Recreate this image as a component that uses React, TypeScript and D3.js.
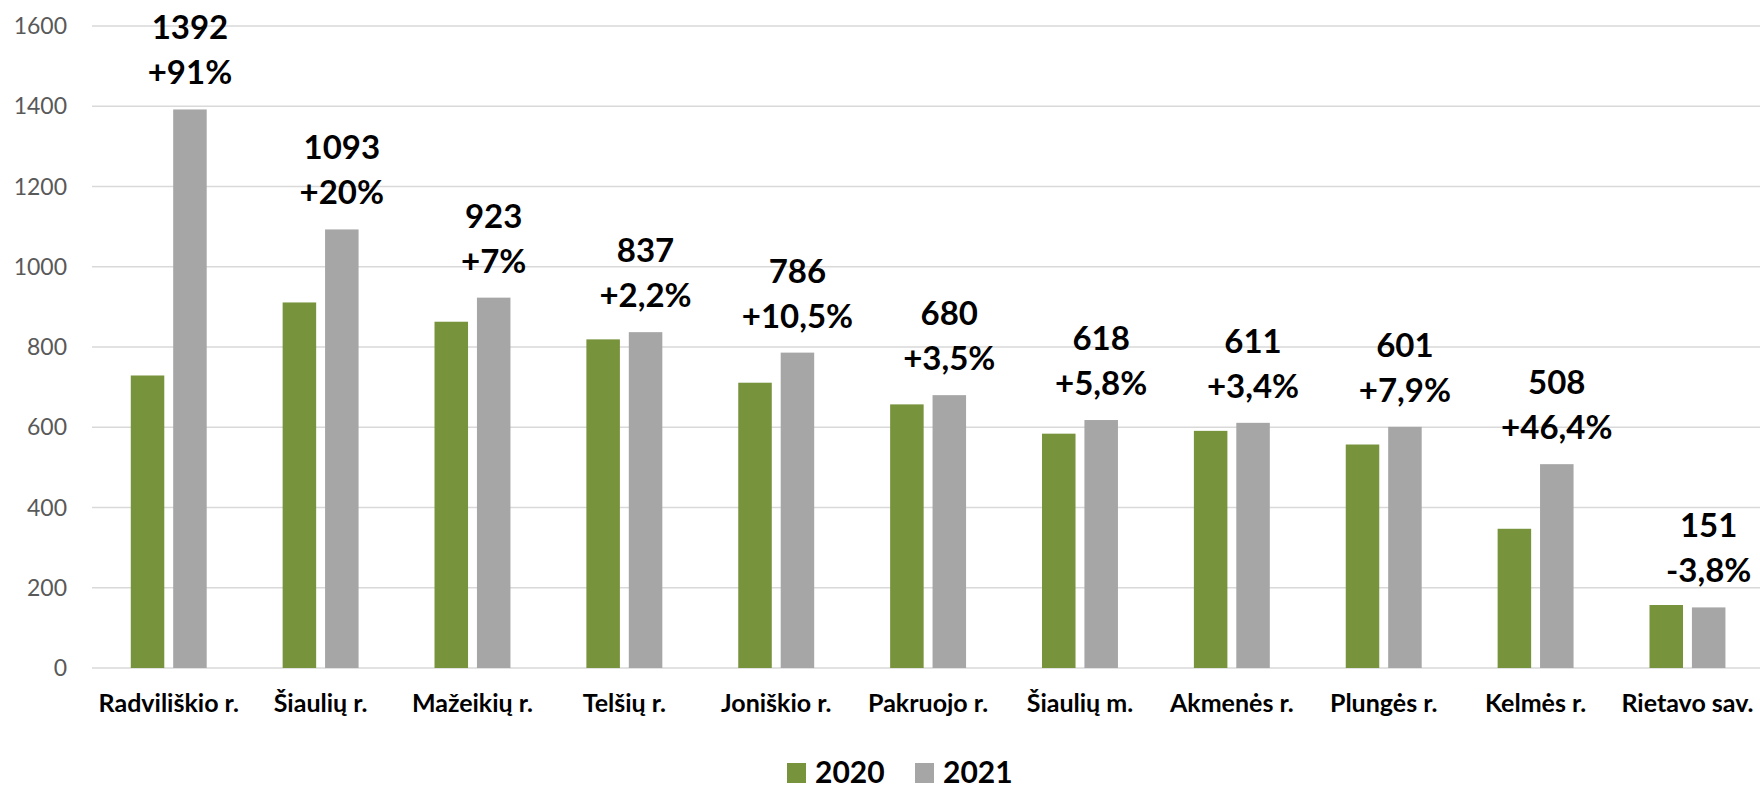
import React, { useEffect, useRef } from 'react';
import * as d3 from 'd3';

const districts = [
  'Radviliškio r.', 'Šiaulių r.', 'Mažeikių r.', 'Telšių r.', 'Joniškio r.', 'Pakruojo r.',
  'Šiaulių m.', 'Akmenės r.', 'Plungės r.', 'Kelmės r.', 'Rietavo sav.',
];
const values2020 = [729, 911, 863, 819, 711, 657, 584, 591, 557, 347, 157];
const values2021 = [1392, 1093, 923, 837, 786, 680, 618, 611, 601, 508, 151];
const changeLabels = ['+91%', '+20%', '+7%', '+2,2%', '+10,5%', '+3,5%', '+5,8%', '+3,4%', '+7,9%', '+46,4%', '-3,8%'];
const seriesNames = ['2020', '2021'];
const yTicks = [0, 200, 400, 600, 800, 1000, 1200, 1400, 1600];

const colors = ['#77933C', '#A6A6A6'];
const FONT = 'Lato, "Open Sans", sans-serif';

const App: React.FC = () => {
  const ref = useRef<SVGSVGElement | null>(null);

  useEffect(() => {
    document.body.style.margin = '0';
    const width = 1760;
    const height = 788;

    const svg = d3.select(ref.current)
      .attr('width', width)
      .attr('height', height);
    svg.selectAll('*').remove();

    const rows = districts.map((name, i) => ({ name, v: [values2020[i], values2021[i]], change: changeLabels[i] }));

    const x0 = d3.scaleBand()
      .domain(districts)
      .range([92.8, 1763.4])
      .paddingInner(0.5)
      .paddingOuter(0.25);
    const x1 = d3.scaleBand()
      .domain(seriesNames)
      .range([0, x0.bandwidth()])
      .paddingInner(0.21);
    const y = d3.scaleLinear()
      .domain([0, 1600])
      .range([668, 26]);

    // grid
    svg.append('g')
      .selectAll('line')
      .data(yTicks)
      .enter()
      .append('line')
      .attr('x1', 92)
      .attr('x2', width)
      .attr('y1', (d: any) => y(d))
      .attr('y2', (d: any) => y(d))
      .attr('stroke', '#d9d9d9')
      .attr('stroke-width', 1.5);

    svg.append('g')
      .selectAll('text')
      .data(yTicks)
      .enter()
      .append('text')
      .attr('x', 67)
      .attr('y', (d: any) => y(d))
      .attr('dy', '0.35em')
      .attr('text-anchor', 'end')
      .attr('font-family', FONT)
      .attr('font-size', 23)
      .attr('fill', '#595959')
      .text((d: any) => d);

    const groups = svg.append('g')
      .selectAll('g')
      .data(rows)
      .enter()
      .append('g')
      .attr('transform', (d: any) => `translate(${x0(d.name)},0)`);

    groups.selectAll('rect')
      .data((d: any) => d.v.map((v: number, i: number) => ({ key: seriesNames[i], v, i })))
      .enter()
      .append('rect')
      .attr('x', (d: any) => x1(d.key)!)
      .attr('width', x1.bandwidth())
      .attr('y', (d: any) => y(d.v))
      .attr('height', (d: any) => y(0) - y(d.v))
      .attr('fill', (d: any) => colors[d.i]);

    // data labels over 2021 bars
    const labelX = (x1('2021') as number) + x1.bandwidth() / 2;
    groups.append('text')
      .attr('x', labelX)
      .attr('y', (d: any) => y(d.v[1]) - 70)
      .attr('text-anchor', 'middle')
      .attr('font-family', FONT)
      .attr('font-weight', 700)
      .attr('font-size', 33)
      .attr('fill', '#000')
      .text((d: any) => d.v[1]);
    groups.append('text')
      .attr('x', labelX)
      .attr('y', (d: any) => y(d.v[1]) - 25)
      .attr('text-anchor', 'middle')
      .attr('font-family', FONT)
      .attr('font-weight', 700)
      .attr('font-size', 33)
      .attr('fill', '#000')
      .text((d: any) => d.change);

    // category labels
    svg.append('g')
      .selectAll('text')
      .data(districts)
      .enter()
      .append('text')
      .attr('x', (d: any) => (x0(d) as number) + x0.bandwidth() / 2)
      .attr('y', 712)
      .attr('text-anchor', 'middle')
      .attr('font-family', FONT)
      .attr('font-weight', 700)
      .attr('font-size', 25)
      .attr('fill', '#000')
      .text((d: any) => d);

    // legend
    const legend = svg.append('g');
    const legendX = [787, 915];
    seriesNames.forEach((s, i) => {
      legend.append('rect')
        .attr('x', legendX[i])
        .attr('y', 763)
        .attr('width', 19)
        .attr('height', 20)
        .attr('fill', colors[i]);
      legend.append('text')
        .attr('x', legendX[i] + 28)
        .attr('y', 783)
        .attr('font-family', FONT)
        .attr('font-weight', 700)
        .attr('font-size', 30)
        .attr('fill', '#000')
        .text(s);
    });
  }, []);

  return <svg ref={ref} style={{ display: 'block' }}></svg>;
};

export default App;
